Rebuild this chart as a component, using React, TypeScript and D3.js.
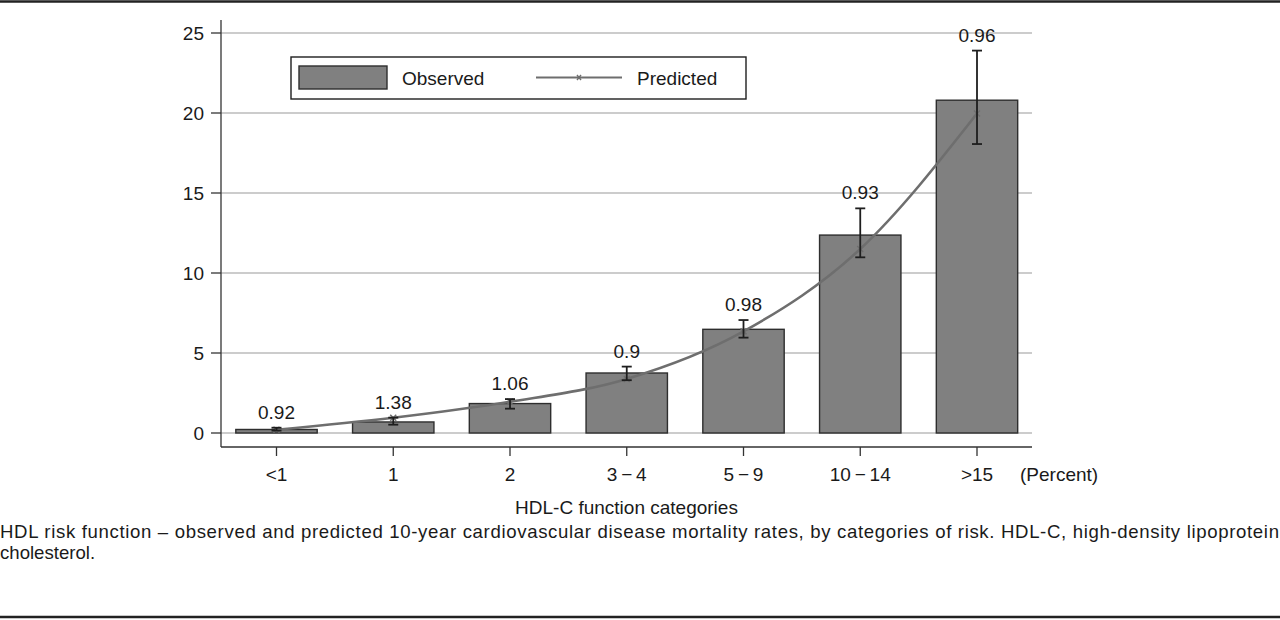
import React from "react";
import * as d3 from "d3";

const categories = ["<1", "1", "2", "3\u2009\u2212\u20094", "5\u2009\u2212\u20099", "10\u2009\u2212\u200914", ">15"];
const observed = [0.22, 0.69, 1.84, 3.75, 6.48, 12.37, 20.8];
const predicted = [0.2, 0.95, 1.95, 3.38, 6.35, 11.5, 19.97];
const errLow = [0.15, 0.52, 1.52, 3.3, 5.96, 10.98, 18.06];
const errHigh = [0.33, 0.96, 2.12, 4.15, 7.06, 14.04, 23.9];
const ratioLabels = ["0.92", "1.38", "1.06", "0.9", "0.98", "0.93", "0.96"];
const yTicks = [0, 5, 10, 15, 20, 25];

const FONT = "'Liberation Sans', Arial, Helvetica, sans-serif";

export default function App() {
  const W = 1280;
  const H = 620;
  const axisX = 221;
  const plotRight = 1032;
  const axisY = 447;
  const fs = 19;

  const y = d3.scaleLinear().domain([0, 25]).range([433, 33]);
  const x = d3.scalePoint<string>().domain(categories).range([276.5, 977]);
  const barW = x.step() * 0.697;

  const line = d3
    .line<number>()
    .x((_, i) => x(categories[i]) as number)
    .y((d) => y(d))
    .curve(d3.curveMonotoneX);

  const textColor = "#1a1a1a";

  return (
    <div style={{ position: "absolute", left: 0, top: 0, width: W, height: H, background: "#fff" }}>
      <svg width={W} height={H} style={{ display: "block", fontFamily: FONT }}>
        <rect x={0} y={0} width={W} height={H} fill="#fff" />
        {/* top and bottom rules */}
        <line x1={0} x2={W} y1={1.5} y2={1.5} stroke="#222" strokeWidth={2.5} />
        <line x1={0} x2={W} y1={617} y2={617} stroke="#222" strokeWidth={2.5} />

        {/* gridlines */}
        {yTicks.map((t) => (
          <line key={"g" + t} x1={axisX} x2={plotRight} y1={y(t)} y2={y(t)} stroke="#9a9a9a" strokeWidth={1.2} />
        ))}

        {/* y axis */}
        <line x1={axisX} x2={axisX} y1={20} y2={axisY} stroke="#333" strokeWidth={1.3} />
        {yTicks.map((t) => (
          <g key={"yt" + t}>
            <line x1={axisX - 10} x2={axisX} y1={y(t)} y2={y(t)} stroke="#333" strokeWidth={1.3} />
            <text x={204} y={y(t) + 7} textAnchor="end" fontSize={fs} fill={textColor}>
              {t}
            </text>
          </g>
        ))}

        {/* x axis */}
        <line x1={axisX} x2={plotRight} y1={axisY} y2={axisY} stroke="#333" strokeWidth={1.3} />
        {categories.map((c) => (
          <g key={"xt" + c}>
            <line x1={x(c)} x2={x(c)} y1={axisY} y2={axisY + 9} stroke="#333" strokeWidth={1.3} />
            <text x={x(c)} y={481} textAnchor="middle" fontSize={fs} fill={textColor}>
              {c}
            </text>
          </g>
        ))}
        <text x={1020} y={481} fontSize={fs} fill={textColor}>
          (Percent)
        </text>
        <text x={626.5} y={514} textAnchor="middle" fontSize={fs} fill={textColor}>
          HDL-C function categories
        </text>

        {/* bars */}
        {observed.map((v, i) => (
          <rect
            key={"b" + i}
            x={(x(categories[i]) as number) - barW / 2}
            y={y(v)}
            width={barW}
            height={y(0) - y(v)}
            fill="#808080"
            stroke="#2e2e2e"
            strokeWidth={1.4}
          />
        ))}

        {/* predicted line */}
        <path d={line(predicted) || ""} fill="none" stroke="#6e6e6e" strokeWidth={2.6} />
        {predicted.map((v, i) => {
          const cx = x(categories[i]) as number;
          const cy = y(v);
          const s = 3;
          return (
            <path
              key={"m" + i}
              d={`M${cx - s},${cy - s}L${cx + s},${cy + s}M${cx - s},${cy + s}L${cx + s},${cy - s}`}
              stroke="#6e6e6e"
              strokeWidth={1.5}
            />
          );
        })}

        {/* error bars */}
        {errLow.map((lo, i) => {
          const cx = x(categories[i]) as number;
          const hi = errHigh[i];
          const cap = 5;
          return (
            <g key={"e" + i} stroke="#1e1e1e" strokeWidth={1.8}>
              <line x1={cx} x2={cx} y1={y(hi)} y2={y(lo)} />
              <line x1={cx - cap} x2={cx + cap} y1={y(hi)} y2={y(hi)} />
              <line x1={cx - cap} x2={cx + cap} y1={y(lo)} y2={y(lo)} />
            </g>
          );
        })}

        {/* ratio labels */}
        {ratioLabels.map((l, i) => (
          <text
            key={"l" + i}
            x={x(categories[i])}
            y={y(errHigh[i]) - 9}
            textAnchor="middle"
            fontSize={fs}
            fill={textColor}
          >
            {l}
          </text>
        ))}

        {/* legend */}
        <rect x={291} y={57} width={455} height={42} fill="#fff" stroke="#1e1e1e" strokeWidth={1.4} />
        <rect x={299} y={66} width={88} height={23} fill="#808080" stroke="#2e2e2e" strokeWidth={1.4} />
        <text x={402} y={85} fontSize={fs} fill={textColor}>
          Observed
        </text>
        <line x1={536} x2={622} y1={77.5} y2={77.5} stroke="#6e6e6e" strokeWidth={2} />
        <path d="M577,75L581,80M577,80L581,75" stroke="#6e6e6e" strokeWidth={1.4} />
        <text x={637} y={85} fontSize={fs} fill={textColor}>
          Predicted
        </text>

        {/* caption */}
        <text x={0} y={538} fontSize={18.6} fill={textColor} textLength={1279} lengthAdjust="spacing">
          HDL risk function – observed and predicted 10-year cardiovascular disease mortality rates, by categories of risk. HDL-C, high-density lipoprotein
        </text>
        <text x={0} y={559} fontSize={18.6} fill={textColor}>
          cholesterol.
        </text>
      </svg>
    </div>
  );
}
